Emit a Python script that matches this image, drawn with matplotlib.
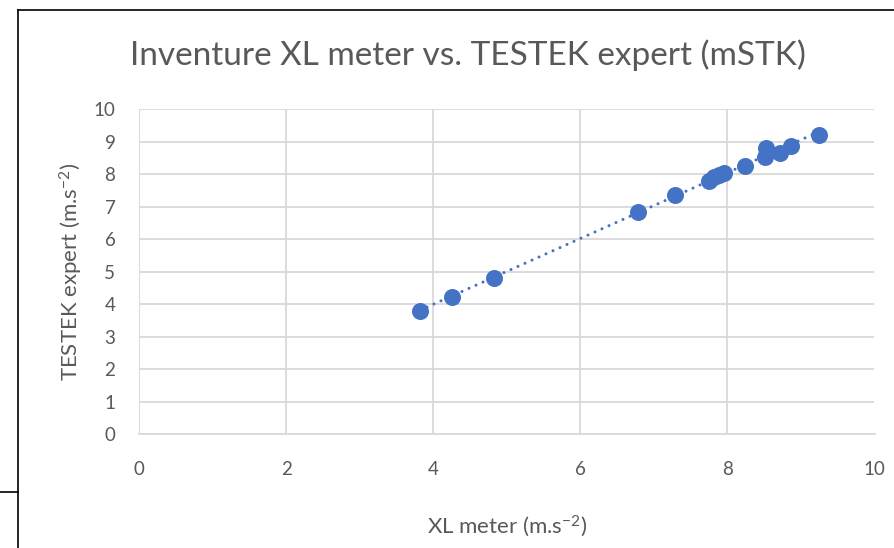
import numpy as np
import matplotlib
matplotlib.use("Agg")
import matplotlib.pyplot as plt
from matplotlib.lines import Line2D

# XL meter readings vs TESTEK expert readings (m.s-2)
xl_meter = [3.82, 4.25, 4.83, 6.79, 7.29, 7.75, 7.82, 7.89, 7.95, 8.24, 8.51, 8.53, 8.71, 8.87, 9.24]
testek = [3.79, 4.23, 4.82, 6.85, 7.36, 7.79, 7.90, 7.97, 8.03, 8.26, 8.52, 8.80, 8.66, 8.87, 9.21]
ticks_x = [0, 2, 4, 6, 8, 10]
ticks_y = list(range(0, 11))

plt.rcParams["font.family"] = ["Lato", "DejaVu Sans"]
plt.rcParams["mathtext.default"] = "regular"
grey_text = "#595959"
grid_col = "#d9d9d9"
blue = "#4472C4"

fig = plt.figure(figsize=(8.95, 5.48), dpi=100)
ax = fig.add_axes([139 / 895, (548 - 434.2) / 548, 735.5 / 895, 325 / 548])

ax.scatter(xl_meter, testek, s=150, color=blue, zorder=3, linewidths=0)

# linear trendline, dotted
coef = np.polyfit(xl_meter, testek, 1)
tx = np.array([min(xl_meter), max(xl_meter)])
ax.plot(tx, np.polyval(coef, tx), color=blue, lw=2.2, dashes=(0.01, 2.5),
        dash_capstyle="round", zorder=2)

ax.set_xlim(0, 10)
ax.set_ylim(0, 10)
ax.set_xticks(ticks_x)
ax.set_yticks(ticks_y)
ax.grid(True, color=grid_col, lw=1.3)
ax.set_axisbelow(True)
for s in ["top", "right", "left"]:
    ax.spines[s].set_visible(False)
ax.spines["bottom"].set_color(grid_col)
ax.spines["bottom"].set_linewidth(1.3)
ax.tick_params(length=0, labelsize=13.5, colors=grey_text)
ax.tick_params(axis="y", pad=17)
ax.tick_params(axis="x", pad=19)

ax.set_xlabel("XL meter (m.s$^{-2}$)", fontsize=16, color=grey_text, labelpad=26)
ax.set_ylabel("TESTEK expert (m.s$^{-2}$)", fontsize=16, color=grey_text, labelpad=6)
fig.text(0.5 * (130 + 805) / 895, 1 - 55 / 548, "Inventure XL meter vs. TESTEK expert (mSTK)",
         fontsize=24, color=grey_text, ha="center", va="center")

# chart frame lines
fig.add_artist(Line2D([18 / 895, 18 / 895], [0, 1 - 10 / 548], color="black", lw=1.2,
                      transform=fig.transFigure))
fig.add_artist(Line2D([18 / 895, 1], [1 - 10 / 548, 1 - 10 / 548], color="black", lw=1.2,
                      transform=fig.transFigure))
fig.add_artist(Line2D([0, 18 / 895], [1 - 492 / 548, 1 - 492 / 548], color="black", lw=1.2,
                      transform=fig.transFigure))

fig.savefig("out.png", dpi=100)
